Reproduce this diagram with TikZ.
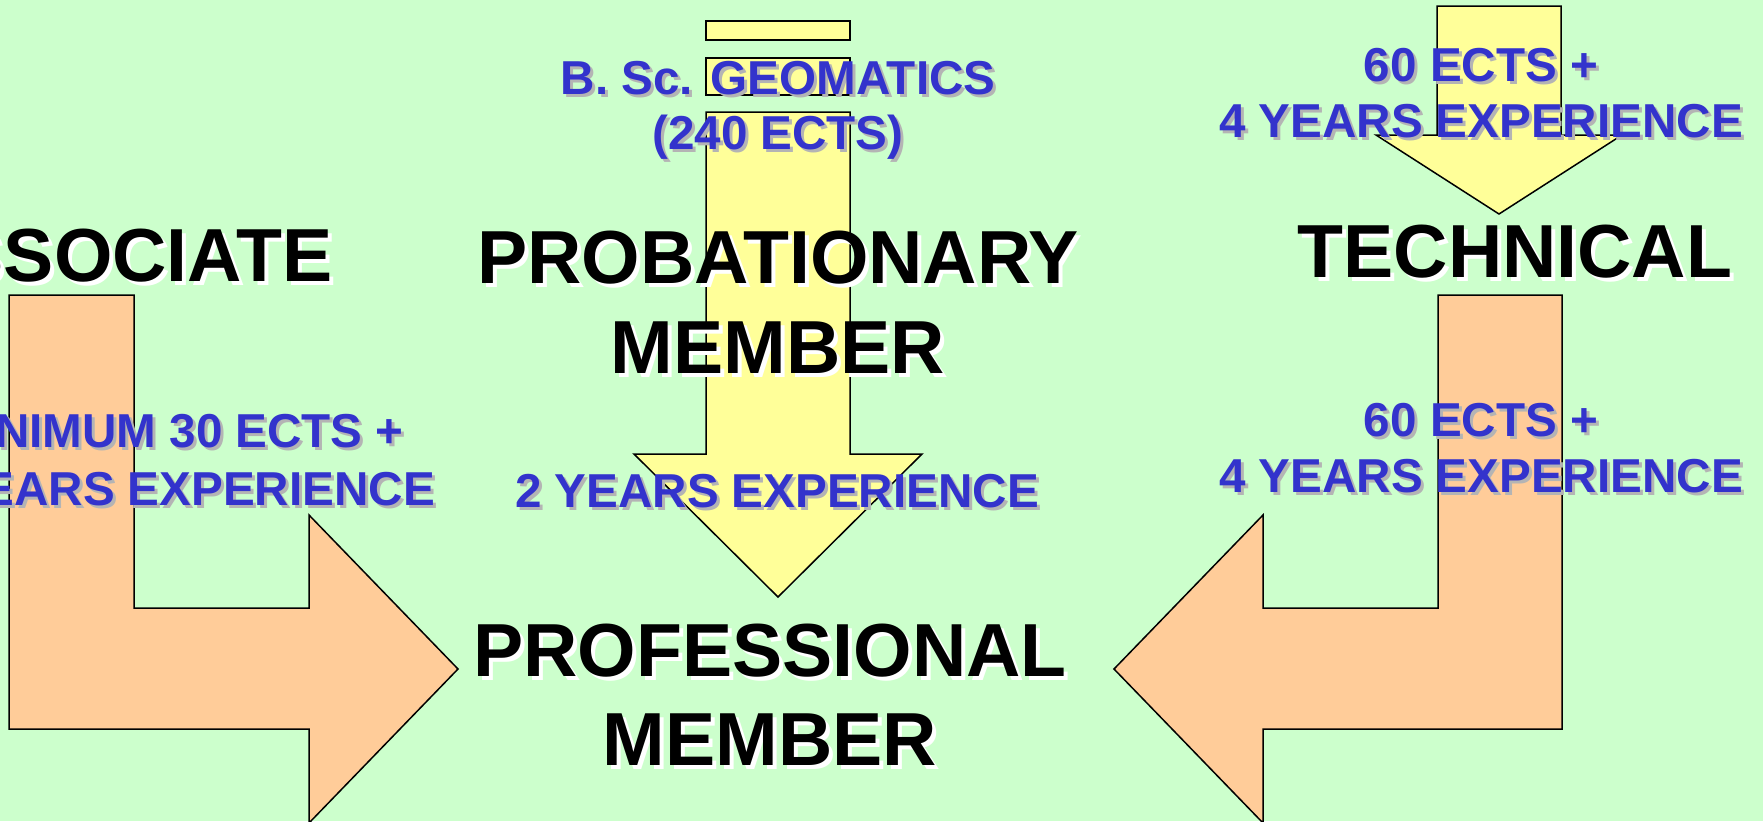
\documentclass[tikz,border=0pt]{standalone}
\usepackage{fontspec}
\setmainfont{Liberation Sans}
\usepackage{tikz}

\definecolor{bggreen}{HTML}{CCFFCC}
\definecolor{arrowyellow}{HTML}{FFFF99}
\definecolor{arroworange}{HTML}{FFCC99}
\definecolor{labelblue}{HTML}{3333CC}
\definecolor{shadowgray}{HTML}{B4B4B4}

\newcommand{\shadowed}[3]{{\color{#1}\rlap{\hspace{#2}\raisebox{-#2}{#3}}}#3}
\newcommand{\whiteshadow}[1]{\shadowed{white}{2pt}{#1}}
\newcommand{\grayshadow}[1]{\shadowed{shadowgray}{1.5pt}{#1}}

\tikzset{
	grade/.style = {font=\bfseries\fontsize{37.6}{44}\selectfont, text=black,
					anchor=base, inner sep=0pt},
	route/.style = {font=\bfseries\fontsize{23.8}{28}\selectfont, text=labelblue,
					anchor=base, inner sep=0pt},
	yellowarrow/.style = {fill=arrowyellow, draw=black, line width=0.75pt},
	orangearrow/.style = {fill=arroworange, draw=black, line width=0.75pt}
}

\begin{document}
\begin{tikzpicture}[x=0.5pt, y=-0.5pt]
\fill[bggreen] (0, 0) rectangle (1763, 821);
\useasboundingbox (0, 0) rectangle (1763, 821);
\clip (0, 0) rectangle (1763, 821);

\filldraw[yellowarrow] (706, 21) rectangle (850, 40);
\filldraw[yellowarrow] (706, 58) rectangle (850, 95);
\filldraw[yellowarrow] (706, 112) -- (850, 112) -- (850, 454) -- (922, 454)
					   -- (778, 597) -- (634, 454) -- (706, 454) -- cycle;

\filldraw[yellowarrow] (1437, 6) -- (1561, 6) -- (1561, 135) -- (1622, 135)
					   -- (1499, 214) -- (1376, 135) -- (1437, 135) -- cycle;

\filldraw[orangearrow] (9, 295) -- (134, 295) -- (134, 608) -- (309, 608)
					   -- (309, 515) -- (458, 669) -- (309, 823) -- (309, 729)
					   -- (9, 729) -- cycle;
\filldraw[orangearrow] (1562, 295) -- (1438, 295) -- (1438, 608) -- (1263, 608)
					   -- (1263, 515) -- (1114, 669) -- (1263, 823) -- (1263, 729)
					   -- (1562, 729) -- cycle;

\node[grade] (assoc) at (116, 281) {\whiteshadow{ASSOCIATE}};
\node[grade] (prob1) at (778, 283) {\whiteshadow{PROBATIONARY}};
\node[grade] (prob2) at (778, 373) {\whiteshadow{MEMBER}};
\node[grade] (tech) at (1515, 277) {\whiteshadow{TECHNICAL}};
\node[grade] (prof1) at (770, 676) {\whiteshadow{PROFESSIONAL}};
\node[grade] (prof2) at (770, 765) {\whiteshadow{MEMBER}};

\node[route] (bsc1) at (778, 94) {\grayshadow{B. Sc. GEOMATICS}};
\node[route] (bsc2) at (778, 149) {\grayshadow{(240 ECTS)}};
\node[route] (two) at (777, 507) {\grayshadow{2 YEARS EXPERIENCE}};
\node[route] (min1) at (173, 447) {\grayshadow{MINIMUM 30 ECTS +}};
\node[route] (min2) at (173, 505) {\grayshadow{4 YEARS EXPERIENCE}};
\node[route] (top1) at (1481, 81) {\grayshadow{60 ECTS +}};
\node[route] (top2) at (1481, 137) {\grayshadow{4 YEARS EXPERIENCE}};
\node[route] (mid1) at (1481, 436) {\grayshadow{60 ECTS +}};
\node[route] (mid2) at (1481, 492) {\grayshadow{4 YEARS EXPERIENCE}};
\end{tikzpicture}
\end{document}
